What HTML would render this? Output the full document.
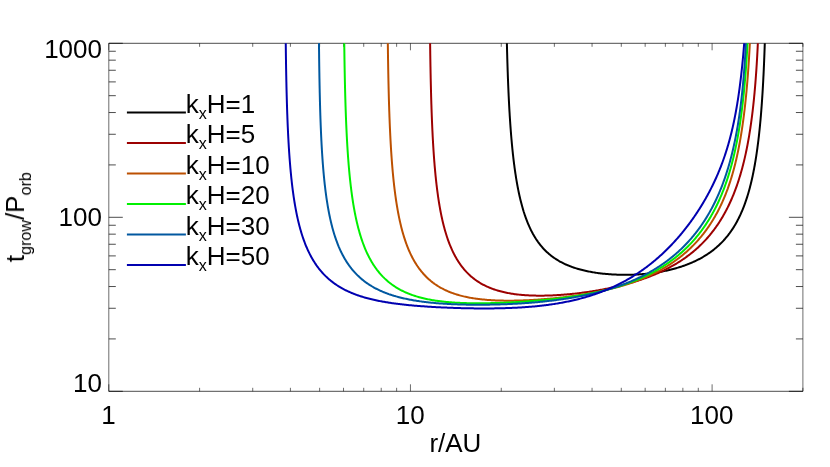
<!DOCTYPE html>
<html><head><meta charset="utf-8"><title>t_grow vs r</title>
<style>
html,body{margin:0;padding:0;background:#fff;}
svg{display:block;}
text{font-family:"Liberation Sans",sans-serif;fill:#000;}
</style></head>
<body>
<svg width="830" height="467" viewBox="0 0 830 467">
<rect x="0" y="0" width="830" height="467" fill="#ffffff"/>
<defs><clipPath id="c"><rect x="108.8" y="43.3" width="694.1" height="348"/></clipPath></defs>
<path d="M108.8 43.3H802.9M108.8 391.3H802.9M108.8 391.3h14M802.9 391.3h-14M108.8 338.92h7M802.9 338.92h-7M108.8 308.28h7M802.9 308.28h-7M108.8 286.54h7M802.9 286.54h-7M108.8 269.68h7M802.9 269.68h-7M108.8 255.9h7M802.9 255.9h-7M108.8 244.25h7M802.9 244.25h-7M108.8 234.16h7M802.9 234.16h-7M108.8 225.26h7M802.9 225.26h-7M108.8 217.3h14M802.9 217.3h-14M108.8 164.92h7M802.9 164.92h-7M108.8 134.28h7M802.9 134.28h-7M108.8 112.54h7M802.9 112.54h-7M108.8 95.68h7M802.9 95.68h-7M108.8 81.9h7M802.9 81.9h-7M108.8 70.25h7M802.9 70.25h-7M108.8 60.16h7M802.9 60.16h-7M108.8 51.26h7M802.9 51.26h-7M108.8 43.3h14M802.9 43.3h-14" fill="none" stroke="#000" stroke-width="0.7"/>
<path d="M108.8 43.3V391.3M802.9 43.3V391.3M108.8 391.3v-7M108.8 43.3v7M199.6 391.3v-3.5M199.6 43.3v3.5M252.72 391.3v-3.5M252.72 43.3v3.5M290.41 391.3v-3.5M290.41 43.3v3.5M319.64 391.3v-3.5M319.64 43.3v3.5M343.53 391.3v-3.5M343.53 43.3v3.5M363.72 391.3v-3.5M363.72 43.3v3.5M381.21 391.3v-3.5M381.21 43.3v3.5M396.64 391.3v-3.5M396.64 43.3v3.5M410.45 391.3v-7M410.45 43.3v7M501.25 391.3v-3.5M501.25 43.3v3.5M554.37 391.3v-3.5M554.37 43.3v3.5M592.06 391.3v-3.5M592.06 43.3v3.5M621.29 391.3v-3.5M621.29 43.3v3.5M645.17 391.3v-3.5M645.17 43.3v3.5M665.37 391.3v-3.5M665.37 43.3v3.5M682.86 391.3v-3.5M682.86 43.3v3.5M698.29 391.3v-3.5M698.29 43.3v3.5M712.1 391.3v-7M712.1 43.3v7M802.9 391.3v-3.5M802.9 43.3v3.5" fill="none" stroke="#000" stroke-width="0.58"/>
<g clip-path="url(#c)" fill="none" stroke-width="2.0" stroke-linejoin="round">
<path d="M506.42 20.57 506.44 21.71 506.46 22.85 506.48 23.98 506.5 25.1 506.53 26.21 506.55 27.32 506.57 28.42 506.59 29.51 506.61 30.59 506.63 31.66 506.65 32.73 506.68 33.79 506.7 34.84 506.72 35.89 506.74 36.92 506.77 37.95 506.79 38.98 506.81 39.99 506.84 41 506.86 42.01 506.89 43.5 506.93 44.98 506.96 46.44 507 47.89 507.04 49.33 507.07 50.75 507.11 52.16 507.15 53.56 507.19 54.94 507.22 56.31 507.26 57.67 507.3 59.01 507.34 60.35 507.38 61.67 507.42 62.98 507.46 64.27 507.5 65.56 507.54 66.84 507.58 68.1 507.62 69.35 507.66 70.6 507.7 71.83 507.75 73.05 507.79 74.26 507.83 75.46 507.87 76.65 507.92 77.84 507.96 79.01 508.01 80.17 508.05 81.32 508.09 82.47 508.14 83.6 508.18 84.73 508.23 85.84 508.28 86.95 508.32 88.05 508.37 89.14 508.42 90.22 508.46 91.29 508.51 92.36 508.56 93.42 508.61 94.47 508.65 95.51 508.7 96.54 508.75 97.57 508.8 98.58 508.85 99.6 508.9 100.6 508.97 101.92 509.04 103.24 509.1 104.54 509.17 105.83 509.24 107.1 509.31 108.37 509.38 109.62 509.45 110.86 509.53 112.09 509.6 113.3 509.67 114.51 509.74 115.7 509.82 116.89 509.89 118.06 509.97 119.22 510.04 120.37 510.12 121.52 510.2 122.65 510.27 123.77 510.35 124.88 510.43 125.98 510.51 127.07 510.59 128.16 510.67 129.23 510.75 130.3 510.83 131.35 510.91 132.4 510.99 133.43 511.07 134.46 511.16 135.48 511.24 136.49 511.33 137.5 511.43 138.74 511.54 139.97 511.65 141.18 511.76 142.39 511.87 143.58 511.98 144.76 512.09 145.93 512.2 147.08 512.31 148.23 512.43 149.36 512.54 150.48 512.66 151.59 512.77 152.69 512.89 153.78 513.01 154.86 513.13 155.93 513.25 156.99 513.37 158.04 513.49 159.07 513.61 160.1 513.73 161.12 513.86 162.13 513.98 163.13 514.13 164.31 514.29 165.49 514.44 166.64 514.59 167.79 514.75 168.93 514.91 170.05 515.06 171.16 515.22 172.25 515.38 173.34 515.55 174.41 515.71 175.47 515.87 176.52 516.04 177.56 516.2 178.59 516.37 179.6 516.54 180.61 516.71 181.6 516.91 182.75 517.11 183.88 517.31 185 517.52 186.11 517.73 187.2 517.93 188.28 518.14 189.34 518.35 190.39 518.57 191.43 518.78 192.46 519 193.47 519.21 194.47 519.43 195.46 519.65 196.44 519.91 197.55 520.16 198.64 520.42 199.71 520.68 200.77 520.94 201.81 521.21 202.84 521.47 203.86 521.74 204.86 522.01 205.85 522.28 206.83 522.56 207.8 522.87 208.86 523.18 209.92 523.5 210.95 523.81 211.98 524.14 212.98 524.46 213.97 524.78 214.95 525.11 215.91 525.44 216.86 525.81 217.9 526.19 218.92 526.56 219.92 526.94 220.91 527.32 221.88 527.71 222.84 528.1 223.77 528.49 224.7 528.92 225.7 529.36 226.68 529.8 227.64 530.25 228.59 530.69 229.52 531.15 230.43 531.6 231.33 532.1 232.29 532.61 233.23 533.11 234.16 533.63 235.06 534.14 235.95 534.66 236.82 535.19 237.68 535.76 238.59 536.34 239.47 536.92 240.34 537.51 241.19 538.1 242.03 538.7 242.84 539.34 243.7 539.99 244.54 540.65 245.36 541.31 246.16 541.98 246.95 542.65 247.72 543.33 248.46 544.01 249.2 544.75 249.96 545.49 250.71 546.24 251.44 546.99 252.15 547.75 252.84 548.52 253.52 549.29 254.18 550.06 254.82 550.84 255.45 551.68 256.11 552.53 256.74 553.38 257.36 554.23 257.96 555.09 258.55 555.96 259.12 556.84 259.68 557.71 260.22 558.6 260.75 559.49 261.26 560.38 261.76 561.28 262.24 562.19 262.71 563.1 263.17 564.02 263.62 564.94 264.06 565.86 264.48 566.79 264.89 567.73 265.29 568.67 265.68 569.62 266.05 570.57 266.42 571.52 266.78 572.48 267.12 573.45 267.46 574.41 267.79 575.39 268.1 576.36 268.41 577.34 268.71 578.33 269 579.32 269.28 580.31 269.55 581.31 269.82 582.31 270.07 583.31 270.32 584.32 270.56 585.34 270.79 586.35 271.02 587.37 271.23 588.39 271.44 589.42 271.64 590.45 271.84 591.48 272.03 592.52 272.21 593.56 272.38 594.6 272.55 595.64 272.71 596.69 272.87 597.74 273.01 598.79 273.16 599.85 273.29 600.91 273.42 601.9 273.54 602.9 273.65 603.9 273.75 604.9 273.85 605.9 273.95 606.9 274.04 607.91 274.12 608.92 274.2 609.93 274.28 610.94 274.35 611.95 274.41 612.97 274.47 613.98 274.52 615 274.57 616.02 274.62 617.04 274.66 618.06 274.69 619.08 274.72 620.1 274.75 621.13 274.77 622.15 274.79 623.18 274.8 624.2 274.8 625.23 274.8 626.26 274.8 627.29 274.79 628.32 274.78 629.35 274.76 630.38 274.74 631.41 274.71 632.44 274.68 633.47 274.64 634.5 274.6 635.53 274.55 636.56 274.5 637.59 274.44 638.62 274.38 639.66 274.31 640.69 274.24 641.72 274.16 642.75 274.07 643.78 273.99 644.81 273.89 645.84 273.79 646.86 273.69 647.89 273.58 648.92 273.47 649.94 273.35 650.97 273.22 651.99 273.09 653.02 272.95 654.04 272.81 655.06 272.66 656.08 272.51 657.1 272.35 658.12 272.19 659.13 272.02 660.15 271.84 661.16 271.66 662.17 271.47 663.18 271.27 664.19 271.07 665.2 270.87 666.2 270.66 667.21 270.44 668.21 270.21 669.21 269.98 670.21 269.74 671.2 269.5 672.19 269.25 673.18 268.99 674.17 268.73 675.16 268.46 676.14 268.18 677.12 267.89 678.1 267.6 679.08 267.3 680.05 267 681.02 266.68 681.99 266.36 682.96 266.04 683.92 265.7 684.88 265.36 685.84 265.01 686.79 264.65 687.74 264.28 688.69 263.91 689.63 263.53 690.57 263.14 691.51 262.74 692.44 262.33 693.37 261.92 694.3 261.49 695.22 261.06 696.14 260.62 697.06 260.17 697.97 259.71 698.88 259.24 699.78 258.76 700.68 258.27 701.58 257.77 702.47 257.27 703.36 256.75 704.25 256.22 705.13 255.68 706 255.13 706.87 254.57 707.74 254 708.6 253.42 709.46 252.83 710.32 252.22 711.17 251.61 712.01 250.98 712.85 250.34 713.68 249.69 714.52 249.02 715.34 248.34 716.11 247.7 716.87 247.04 717.63 246.37 718.38 245.69 719.13 245 719.87 244.29 720.61 243.57 721.35 242.84 722.08 242.09 722.81 241.33 723.53 240.56 724.24 239.77 724.96 238.97 725.61 238.21 726.26 237.44 726.91 236.65 727.56 235.86 728.2 235.04 728.83 234.22 729.47 233.38 730.09 232.52 730.72 231.65 731.33 230.77 731.9 229.93 732.46 229.09 733.02 228.23 733.58 227.36 734.13 226.47 734.68 225.57 735.22 224.65 735.76 223.72 736.3 222.77 736.79 221.89 737.27 220.99 737.75 220.08 738.23 219.16 738.71 218.22 739.18 217.27 739.65 216.3 740.11 215.32 740.57 214.32 740.99 213.4 741.4 212.46 741.81 211.51 742.22 210.55 742.62 209.58 743.02 208.59 743.42 207.59 743.82 206.57 744.21 205.53 744.56 204.59 744.91 203.64 745.26 202.67 745.6 201.69 745.94 200.69 746.28 199.69 746.62 198.66 746.95 197.63 747.28 196.58 747.61 195.52 747.94 194.44 748.23 193.47 748.51 192.49 748.8 191.5 749.08 190.49 749.36 189.47 749.64 188.44 749.91 187.4 750.19 186.34 750.46 185.27 750.73 184.19 751 183.09 751.27 181.98 751.5 181 751.73 180.01 751.96 179 752.18 177.99 752.41 176.96 752.63 175.92 752.85 174.87 753.07 173.81 753.29 172.74 753.51 171.65 753.72 170.55 753.94 169.44 754.15 168.32 754.36 167.18 754.54 166.2 754.72 165.2 754.9 164.2 755.07 163.18 755.25 162.16 755.42 161.12 755.59 160.08 755.77 159.02 755.94 157.95 756.11 156.88 756.27 155.79 756.44 154.69 756.61 153.58 756.77 152.45 756.93 151.32 757.09 150.17 757.26 149.02 757.41 147.84 757.57 146.66 757.7 145.67 757.83 144.66 757.96 143.65 758.09 142.63 758.22 141.59 758.35 140.55 758.47 139.5 758.6 138.44 758.72 137.37 758.85 136.3 758.97 135.21 759.09 134.11 759.21 133 759.33 131.88 759.45 130.75 759.57 129.61 759.69 128.45 759.8 127.29 759.92 126.12 760.03 124.93 760.15 123.74 760.26 122.53 760.37 121.31 760.49 120.08 760.6 118.83 760.68 117.83 760.77 116.82 760.86 115.8 760.94 114.77 761.03 113.73 761.12 112.69 761.2 111.64 761.28 110.57 761.37 109.5 761.45 108.42 761.53 107.34 761.62 106.24 761.7 105.13 761.78 104.02 761.86 102.89 761.94 101.76 762.02 100.61 762.1 99.46 762.17 98.3 762.25 97.12 762.33 95.94 762.41 94.74 762.48 93.54 762.56 92.32 762.63 91.1 762.71 89.86 762.78 88.61 762.85 87.35 762.93 86.08 763 84.8 763.07 83.51 763.14 82.2 763.21 80.88 763.28 79.55 763.33 78.55 763.38 77.53 763.43 76.51 763.49 75.49 763.54 74.45 763.59 73.41 763.64 72.36 763.69 71.3 763.74 70.23 763.79 69.16 763.83 68.08 763.88 66.99 763.93 65.89 763.98 64.79 764.03 63.67 764.07 62.55 764.12 61.42 764.17 60.28 764.21 59.13 764.26 57.98 764.31 56.81 764.35 55.63 764.4 54.45 764.44 53.26 764.49 52.05 764.53 50.84 764.57 49.61 764.62 48.38 764.66 47.14 764.7 45.89 764.75 44.62 764.79 43.35 764.83 42.06 764.87 40.77 764.91 39.46 764.95 38.14 764.99 36.81 765.03 35.47 765.07 34.12 765.11 32.75 765.15 31.38 765.19 29.99 765.23 28.59 765.27 27.17 765.31 25.75 765.34 24.31 765.38 22.85 765.42 21.39 765.44 20.4" stroke="#000000"/>
<path d="M429.87 20.63 429.89 22.28 429.9 23.9 429.92 25.51 429.93 27.1 429.95 28.67 429.96 30.22 429.98 31.76 430 33.27 430.01 34.77 430.03 36.26 430.05 37.72 430.06 39.17 430.08 40.61 430.1 42.03 430.12 43.43 430.13 44.82 430.15 46.2 430.17 47.56 430.19 48.91 430.21 50.24 430.23 51.56 430.24 52.87 430.26 54.17 430.28 55.45 430.3 56.72 430.32 57.98 430.34 59.22 430.36 60.46 430.38 61.68 430.4 62.89 430.42 64.09 430.44 65.28 430.46 66.46 430.49 67.63 430.51 68.79 430.53 69.94 430.55 71.08 430.57 72.2 430.59 73.32 430.62 74.43 430.64 75.53 430.66 76.62 430.68 77.7 430.71 78.78 430.73 79.84 430.75 80.89 430.78 81.94 430.8 82.98 430.82 84.01 430.85 85.03 430.87 86.04 430.9 87.05 430.93 88.54 430.97 90.02 431.01 91.48 431.05 92.92 431.08 94.35 431.12 95.76 431.16 97.16 431.2 98.54 431.24 99.91 431.28 101.26 431.32 102.6 431.36 103.92 431.41 105.23 431.45 106.53 431.49 107.81 431.53 109.08 431.58 110.34 431.62 111.58 431.66 112.81 431.71 114.03 431.75 115.24 431.8 116.44 431.85 117.62 431.89 118.8 431.94 119.96 431.98 121.11 432.03 122.26 432.08 123.39 432.13 124.51 432.18 125.62 432.23 126.72 432.27 127.81 432.32 128.89 432.37 129.96 432.43 131.02 432.48 132.08 432.53 133.12 432.58 134.15 432.63 135.18 432.68 136.2 432.74 137.21 432.79 138.21 432.86 139.53 432.94 140.83 433.01 142.12 433.08 143.4 433.16 144.67 433.23 145.92 433.31 147.15 433.39 148.38 433.46 149.59 433.54 150.79 433.62 151.97 433.7 153.15 433.78 154.31 433.86 155.46 433.94 156.6 434.02 157.73 434.11 158.84 434.19 159.95 434.28 161.05 434.36 162.13 434.45 163.2 434.53 164.27 434.62 165.32 434.71 166.37 434.8 167.4 434.89 168.42 434.98 169.44 435.07 170.44 435.16 171.44 435.28 172.67 435.39 173.89 435.51 175.09 435.63 176.29 435.75 177.46 435.87 178.63 435.99 179.78 436.12 180.92 436.24 182.05 436.37 183.16 436.49 184.26 436.62 185.36 436.75 186.44 436.88 187.5 437.01 188.56 437.14 189.61 437.27 190.64 437.41 191.67 437.54 192.68 437.68 193.68 437.82 194.68 437.98 195.86 438.15 197.02 438.32 198.17 438.49 199.31 438.66 200.43 438.84 201.54 439.01 202.64 439.19 203.72 439.37 204.79 439.55 205.85 439.73 206.9 439.91 207.94 440.1 208.96 440.28 209.97 440.47 210.97 440.66 211.96 440.88 213.1 441.11 214.22 441.34 215.33 441.56 216.43 441.8 217.51 442.03 218.58 442.26 219.63 442.5 220.67 442.74 221.7 442.98 222.71 443.23 223.71 443.47 224.7 443.72 225.68 444 226.78 444.29 227.86 444.58 228.93 444.88 229.99 445.17 231.03 445.47 232.05 445.77 233.06 446.08 234.06 446.38 235.04 446.69 236.01 447 236.97 447.36 238.03 447.71 239.07 448.07 240.1 448.44 241.11 448.8 242.1 449.17 243.08 449.55 244.05 449.92 245 450.3 245.93 450.73 246.95 451.16 247.96 451.59 248.95 452.03 249.92 452.47 250.87 452.92 251.81 453.37 252.73 453.82 253.64 454.28 254.53 454.79 255.49 455.3 256.44 455.81 257.37 456.34 258.28 456.86 259.17 457.39 260.04 457.93 260.9 458.47 261.75 459.06 262.65 459.66 263.53 460.26 264.4 460.87 265.25 461.49 266.08 462.11 266.89 462.74 267.69 463.37 268.47 464.06 269.3 464.75 270.1 465.45 270.89 466.16 271.66 466.87 272.42 467.59 273.15 468.32 273.87 469.05 274.58 469.79 275.26 470.53 275.93 471.34 276.64 472.15 277.32 472.97 277.99 473.8 278.64 474.63 279.28 475.47 279.89 476.32 280.5 477.17 281.08 478.03 281.65 478.89 282.2 479.76 282.74 480.64 283.27 481.53 283.78 482.42 284.27 483.31 284.76 484.21 285.22 485.12 285.68 486.04 286.12 486.96 286.55 487.88 286.96 488.81 287.37 489.75 287.76 490.69 288.14 491.64 288.5 492.59 288.86 493.55 289.2 494.52 289.54 495.49 289.86 496.46 290.17 497.44 290.47 498.43 290.76 499.42 291.04 500.42 291.31 501.42 291.57 502.43 291.82 503.44 292.06 504.46 292.3 505.48 292.52 506.5 292.73 507.54 292.94 508.57 293.13 509.61 293.32 510.66 293.5 511.71 293.67 512.76 293.84 513.82 293.99 514.88 294.14 515.95 294.28 516.94 294.4 517.94 294.52 518.95 294.63 519.95 294.73 520.96 294.83 521.97 294.92 522.99 295.01 524.01 295.09 525.03 295.17 526.06 295.24 527.09 295.3 528.12 295.36 529.15 295.41 530.19 295.46 531.23 295.5 532.28 295.54 533.33 295.57 534.38 295.6 535.43 295.62 536.48 295.64 537.54 295.65 538.6 295.66 539.67 295.67 540.73 295.66 541.8 295.66 542.88 295.65 543.95 295.63 545.03 295.62 546.1 295.59 547.19 295.57 548.18 295.54 549.19 295.5 550.19 295.47 551.2 295.43 552.2 295.39 553.21 295.34 554.22 295.29 555.23 295.24 556.25 295.18 557.26 295.12 558.28 295.06 559.3 294.99 560.32 294.92 561.34 294.85 562.36 294.77 563.38 294.69 564.41 294.61 565.43 294.53 566.46 294.44 567.49 294.35 568.52 294.25 569.55 294.15 570.58 294.05 571.61 293.95 572.65 293.84 573.68 293.73 574.71 293.62 575.75 293.51 576.79 293.39 577.82 293.26 578.86 293.14 579.9 293.01 580.94 292.88 581.98 292.75 583.02 292.61 584.06 292.47 585.1 292.33 586.15 292.18 587.19 292.03 588.23 291.88 589.27 291.73 590.32 291.57 591.36 291.41 592.4 291.24 593.45 291.08 594.49 290.91 595.53 290.73 596.58 290.56 597.62 290.38 598.66 290.2 599.71 290.01 600.75 289.82 601.79 289.63 602.84 289.43 603.88 289.24 604.92 289.03 605.96 288.83 607 288.62 608.04 288.41 609.08 288.19 610.12 287.98 611.16 287.75 612.2 287.53 613.24 287.3 614.28 287.07 615.31 286.83 616.35 286.59 617.38 286.35 618.42 286.11 619.45 285.86 620.48 285.6 621.51 285.34 622.54 285.08 623.57 284.82 624.6 284.55 625.63 284.28 626.65 284 627.68 283.72 628.7 283.44 629.72 283.15 630.74 282.86 631.76 282.56 632.78 282.26 633.79 281.95 634.81 281.65 635.82 281.33 636.83 281.01 637.84 280.69 638.85 280.37 639.86 280.03 640.86 279.7 641.86 279.36 642.86 279.01 643.86 278.66 644.86 278.31 645.85 277.95 646.85 277.59 647.84 277.22 648.83 276.84 649.81 276.47 650.8 276.08 651.78 275.69 652.76 275.3 653.74 274.9 654.72 274.49 655.69 274.08 656.66 273.67 657.63 273.25 658.6 272.82 659.56 272.39 660.52 271.95 661.48 271.51 662.43 271.06 663.39 270.6 664.34 270.14 665.29 269.67 666.23 269.2 667.17 268.72 668.11 268.23 669.05 267.74 669.98 267.24 670.91 266.73 671.84 266.22 672.77 265.7 673.69 265.18 674.61 264.64 675.52 264.11 676.43 263.56 677.34 263.01 678.25 262.45 679.15 261.88 680.05 261.3 680.95 260.72 681.84 260.13 682.73 259.53 683.61 258.93 684.49 258.32 685.37 257.7 686.25 257.07 687.12 256.43 687.99 255.79 688.85 255.13 689.71 254.47 690.57 253.8 691.42 253.13 692.2 252.5 692.98 251.86 693.75 251.22 694.52 250.57 695.28 249.91 696.04 249.24 696.8 248.57 697.56 247.89 698.31 247.2 699.06 246.5 699.81 245.79 700.55 245.08 701.29 244.36 702.02 243.63 702.75 242.89 703.48 242.14 704.2 241.39 704.92 240.62 705.64 239.85 706.35 239.07 707.06 238.27 707.77 237.47 708.47 236.66 709.17 235.85 709.86 235.02 710.55 234.18 711.24 233.33 711.92 232.47 712.54 231.68 713.16 230.89 713.77 230.08 714.38 229.27 714.98 228.45 715.58 227.62 716.18 226.78 716.77 225.93 717.37 225.07 717.95 224.2 718.54 223.33 719.12 222.44 719.7 221.55 720.27 220.64 720.84 219.73 721.41 218.81 721.97 217.87 722.54 216.93 723.09 215.98 723.59 215.11 724.09 214.23 724.58 213.35 725.07 212.46 725.56 211.56 726.04 210.65 726.52 209.73 727 208.8 727.48 207.86 727.95 206.91 728.42 205.96 728.88 204.99 729.35 204.02 729.81 203.03 730.27 202.04 730.72 201.03 731.17 200.02 731.62 198.99 732.02 198.07 732.41 197.15 732.8 196.21 733.19 195.26 733.58 194.31 733.96 193.35 734.34 192.38 734.72 191.39 735.1 190.41 735.47 189.41 735.85 188.4 736.22 187.38 736.58 186.35 736.95 185.32 737.31 184.27 737.67 183.21 738.03 182.15 738.38 181.07 738.73 179.98 739.04 179.02 739.34 178.06 739.64 177.08 739.94 176.1 740.24 175.1 740.54 174.1 740.83 173.09 741.13 172.07 741.42 171.04 741.7 170.01 741.99 168.96 742.28 167.91 742.56 166.84 742.84 165.77 743.12 164.68 743.39 163.59 743.67 162.48 743.94 161.37 744.21 160.25 744.48 159.11 744.71 158.13 744.94 157.14 745.16 156.15 745.39 155.14 745.61 154.13 745.83 153.11 746.05 152.08 746.27 151.04 746.48 149.99 746.7 148.94 746.91 147.87 747.13 146.8 747.34 145.72 747.55 144.63 747.75 143.52 747.96 142.41 748.16 141.29 748.37 140.16 748.57 139.03 748.77 137.88 748.97 136.72 749.17 135.55 749.36 134.36 749.52 133.37 749.68 132.37 749.84 131.37 750 130.35 750.16 129.33 750.32 128.3 750.47 127.26 750.63 126.21 750.78 125.16 750.93 124.09 751.08 123.02 751.23 121.94 751.38 120.85 751.53 119.75 751.68 118.64 751.82 117.53 751.97 116.4 752.11 115.27 752.26 114.12 752.4 112.97 752.54 111.8 752.68 110.63 752.82 109.44 752.95 108.25 753.09 107.05 753.22 105.83 753.36 104.6 753.49 103.37 753.6 102.37 753.7 101.36 753.81 100.35 753.91 99.33 754.01 98.3 754.11 97.27 754.22 96.22 754.32 95.17 754.42 94.12 754.52 93.05 754.61 91.97 754.71 90.89 754.81 89.8 754.91 88.7 755 87.59 755.1 86.47 755.19 85.35 755.29 84.21 755.38 83.07 755.47 81.91 755.56 80.75 755.65 79.58 755.74 78.39 755.83 77.2 755.92 76 756.01 74.78 756.1 73.56 756.18 72.33 756.27 71.08 756.36 69.83 756.44 68.56 756.52 67.28 756.61 65.99 756.69 64.69 756.77 63.38 756.85 62.05 756.91 61.05 756.97 60.04 757.03 59.03 757.09 58 757.15 56.97 757.21 55.93 757.27 54.89 757.32 53.83 757.38 52.77 757.44 51.71 757.49 50.63 757.55 49.54 757.61 48.45 757.66 47.35 757.71 46.24 757.77 45.12 757.82 44 757.88 42.86 757.93 41.72 757.98 40.56 758.03 39.4 758.09 38.23 758.14 37.05 758.19 35.86 758.24 34.66 758.29 33.45 758.34 32.22 758.39 30.99 758.44 29.75 758.49 28.5 758.54 27.24 758.58 25.96 758.63 24.68 758.68 23.38 758.72 22.07 758.77 20.75 758.79 20.31" stroke="#9c0000"/>
<path d="M387.6 20.84 387.61 22.6 387.63 24.33 387.64 26.04 387.66 27.74 387.68 29.41 387.69 31.05 387.71 32.68 387.73 34.29 387.74 35.88 387.76 37.45 387.78 39.01 387.8 40.54 387.81 42.06 387.83 43.56 387.85 45.04 387.87 46.51 387.89 47.96 387.91 49.39 387.93 50.81 387.94 52.22 387.96 53.61 387.98 54.98 388 56.34 388.02 57.69 388.04 59.02 388.06 60.34 388.09 61.64 388.11 62.94 388.13 64.22 388.15 65.49 388.17 66.74 388.19 67.99 388.21 69.22 388.24 70.44 388.26 71.65 388.28 72.85 388.3 74.03 388.33 75.21 388.35 76.38 388.37 77.53 388.4 78.68 388.42 79.81 388.44 80.94 388.47 82.05 388.49 83.16 388.52 84.26 388.54 85.34 388.57 86.42 388.59 87.49 388.62 88.55 388.64 89.6 388.67 90.65 388.69 91.68 388.72 92.71 388.75 93.73 388.77 94.74 388.8 95.74 388.84 97.23 388.88 98.7 388.92 100.15 388.96 101.59 389.01 103.01 389.05 104.42 389.09 105.81 389.14 107.18 389.18 108.54 389.22 109.89 389.27 111.22 389.32 112.54 389.36 113.84 389.41 115.13 389.45 116.41 389.5 117.67 389.55 118.92 389.6 120.16 389.65 121.39 389.69 122.6 389.74 123.8 389.79 124.99 389.84 126.17 389.89 127.34 389.95 128.5 390 129.64 390.05 130.78 390.1 131.9 390.16 133.02 390.21 134.12 390.26 135.22 390.32 136.3 390.37 137.38 390.43 138.44 390.48 139.5 390.54 140.54 390.6 141.58 390.65 142.61 390.71 143.63 390.77 144.64 390.83 145.64 390.9 146.96 390.98 148.27 391.06 149.56 391.14 150.84 391.23 152.11 391.31 153.36 391.39 154.6 391.48 155.82 391.56 157.04 391.65 158.24 391.73 159.42 391.82 160.6 391.91 161.76 392 162.91 392.09 164.05 392.18 165.18 392.27 166.29 392.36 167.4 392.45 168.49 392.54 169.58 392.64 170.65 392.73 171.71 392.83 172.77 392.93 173.81 393.02 174.84 393.12 175.87 393.22 176.88 393.32 177.88 393.44 179.12 393.57 180.35 393.7 181.57 393.83 182.76 393.96 183.95 394.09 185.12 394.22 186.28 394.36 187.43 394.49 188.56 394.63 189.69 394.77 190.79 394.91 191.89 395.05 192.98 395.19 194.05 395.33 195.11 395.47 196.17 395.62 197.21 395.77 198.24 395.91 199.25 396.06 200.26 396.21 201.26 396.39 202.44 396.58 203.61 396.76 204.77 396.95 205.91 397.14 207.03 397.33 208.15 397.52 209.25 397.71 210.33 397.9 211.41 398.1 212.47 398.3 213.52 398.5 214.56 398.7 215.58 398.91 216.59 399.11 217.6 399.32 218.59 399.53 219.56 399.77 220.69 400.02 221.8 400.27 222.9 400.52 223.99 400.78 225.05 401.03 226.11 401.29 227.15 401.55 228.18 401.82 229.2 402.08 230.2 402.35 231.19 402.62 232.16 402.9 233.13 403.21 234.21 403.53 235.29 403.85 236.34 404.17 237.38 404.5 238.41 404.83 239.42 405.16 240.42 405.49 241.4 405.83 242.37 406.17 243.32 406.52 244.26 406.91 245.31 407.3 246.33 407.7 247.34 408.1 248.34 408.5 249.32 408.91 250.28 409.32 251.23 409.74 252.16 410.16 253.08 410.63 254.08 411.1 255.07 411.58 256.04 412.06 256.99 412.55 257.93 413.04 258.85 413.54 259.75 414.04 260.64 414.54 261.51 415.1 262.45 415.67 263.38 416.24 264.28 416.81 265.17 417.39 266.05 417.98 266.9 418.57 267.74 419.17 268.56 419.77 269.37 420.43 270.23 421.1 271.08 421.77 271.9 422.45 272.71 423.13 273.5 423.82 274.28 424.52 275.03 425.22 275.77 425.93 276.5 426.64 277.21 427.42 277.96 428.21 278.69 429 279.41 429.8 280.11 430.6 280.79 431.42 281.45 432.23 282.1 433.06 282.74 433.89 283.35 434.73 283.96 435.57 284.54 436.42 285.11 437.28 285.67 438.14 286.22 439.01 286.75 439.89 287.26 440.77 287.76 441.65 288.25 442.55 288.73 443.45 289.19 444.35 289.65 445.26 290.08 446.18 290.51 447.1 290.93 448.03 291.33 448.96 291.72 449.9 292.1 450.85 292.47 451.8 292.83 452.75 293.18 453.72 293.52 454.68 293.85 455.66 294.17 456.63 294.47 457.62 294.77 458.6 295.06 459.6 295.34 460.6 295.61 461.6 295.87 462.61 296.13 463.62 296.37 464.64 296.61 465.66 296.84 466.69 297.06 467.73 297.27 468.76 297.47 469.81 297.67 470.86 297.86 471.91 298.04 472.96 298.21 474.03 298.38 475.09 298.54 476.16 298.69 477.15 298.83 478.15 298.96 479.15 299.08 480.15 299.2 481.16 299.31 482.17 299.42 483.18 299.52 484.2 299.62 485.22 299.72 486.24 299.8 487.27 299.89 488.3 299.97 489.33 300.04 490.37 300.11 491.41 300.17 492.45 300.24 493.5 300.29 494.55 300.34 495.6 300.39 496.65 300.43 497.71 300.47 498.77 300.51 499.84 300.54 500.9 300.57 501.97 300.59 503.04 300.61 504.12 300.63 505.19 300.64 506.27 300.65 507.36 300.66 508.44 300.66 509.53 300.66 510.62 300.66 511.62 300.65 512.62 300.64 513.63 300.63 514.64 300.61 515.64 300.59 516.65 300.57 517.67 300.55 518.68 300.53 519.7 300.5 520.71 300.47 521.73 300.43 522.75 300.4 523.78 300.36 524.8 300.32 525.83 300.28 526.85 300.23 527.88 300.19 528.91 300.14 529.94 300.08 530.98 300.03 532.01 299.97 533.04 299.91 534.08 299.85 535.12 299.79 536.16 299.72 537.2 299.66 538.24 299.59 539.28 299.51 540.32 299.44 541.37 299.36 542.41 299.28 543.46 299.2 544.51 299.12 545.56 299.03 546.6 298.95 547.65 298.86 548.7 298.76 549.75 298.67 550.81 298.57 551.86 298.48 552.91 298.37 553.97 298.27 555.02 298.17 556.07 298.06 557.13 297.95 558.19 297.84 559.24 297.72 560.3 297.61 561.36 297.49 562.41 297.37 563.47 297.24 564.53 297.12 565.59 296.99 566.64 296.86 567.7 296.72 568.76 296.59 569.82 296.45 570.88 296.31 571.93 296.17 572.99 296.02 574.05 295.88 575.11 295.73 576.17 295.57 577.23 295.42 578.28 295.26 579.34 295.1 580.4 294.93 581.45 294.77 582.51 294.6 583.57 294.43 584.62 294.25 585.68 294.08 586.73 293.9 587.79 293.71 588.84 293.53 589.89 293.34 590.94 293.15 592 292.95 593.05 292.76 594.1 292.56 595.15 292.35 596.19 292.14 597.24 291.93 598.29 291.72 599.34 291.5 600.38 291.28 601.42 291.06 602.47 290.83 603.51 290.6 604.55 290.37 605.59 290.13 606.63 289.89 607.67 289.65 608.7 289.4 609.74 289.15 610.77 288.89 611.8 288.63 612.83 288.37 613.86 288.1 614.89 287.83 615.92 287.56 616.94 287.28 617.97 286.99 618.99 286.71 620.01 286.42 621.03 286.12 622.04 285.82 623.06 285.52 624.07 285.21 625.08 284.9 626.1 284.58 627.1 284.26 628.11 283.93 629.11 283.6 630.12 283.27 631.12 282.93 632.12 282.58 633.11 282.23 634.11 281.88 635.1 281.52 636.09 281.15 637.08 280.78 638.06 280.41 639.05 280.03 640.03 279.64 641.01 279.25 641.98 278.86 642.96 278.46 643.93 278.05 644.9 277.64 645.87 277.23 646.83 276.8 647.79 276.38 648.75 275.94 649.71 275.5 650.66 275.06 651.62 274.61 652.56 274.15 653.51 273.69 654.45 273.22 655.39 272.75 656.33 272.27 657.27 271.78 658.2 271.29 659.13 270.79 660.06 270.28 660.98 269.77 661.9 269.25 662.82 268.73 663.73 268.2 664.64 267.66 665.55 267.11 666.46 266.56 667.36 266.01 668.26 265.44 669.15 264.87 670.04 264.29 670.93 263.71 671.82 263.11 672.7 262.51 673.58 261.91 674.45 261.29 675.32 260.67 676.19 260.04 677.06 259.41 677.92 258.76 678.78 258.11 679.63 257.45 680.48 256.79 681.33 256.11 682.17 255.43 683.01 254.74 683.85 254.04 684.68 253.33 685.51 252.62 686.33 251.89 687.15 251.16 687.9 250.49 688.64 249.81 689.37 249.12 690.1 248.43 690.83 247.73 691.56 247.02 692.28 246.31 693 245.58 693.72 244.85 694.43 244.11 695.14 243.37 695.85 242.61 696.55 241.85 697.25 241.08 697.95 240.3 698.64 239.52 699.33 238.72 700.01 237.92 700.7 237.11 701.37 236.29 702.05 235.46 702.72 234.62 703.39 233.78 704.05 232.92 704.71 232.06 705.37 231.18 706.02 230.3 706.67 229.41 707.32 228.51 707.89 227.69 708.47 226.86 709.04 226.02 709.61 225.18 710.17 224.32 710.74 223.46 711.29 222.59 711.85 221.72 712.4 220.83 712.95 219.93 713.5 219.03 714.04 218.11 714.58 217.19 715.12 216.26 715.65 215.31 716.19 214.36 716.71 213.4 717.24 212.42 717.76 211.44 718.28 210.45 718.73 209.56 719.19 208.66 719.64 207.75 720.09 206.83 720.54 205.91 720.98 204.97 721.42 204.03 721.86 203.07 722.3 202.11 722.73 201.14 723.16 200.16 723.59 199.16 724.02 198.16 724.44 197.15 724.86 196.13 725.28 195.1 725.69 194.05 726.1 193 726.51 191.93 726.87 190.99 727.22 190.04 727.58 189.09 727.92 188.12 728.27 187.14 728.62 186.16 728.96 185.16 729.3 184.16 729.64 183.14 729.98 182.12 730.31 181.09 730.65 180.04 730.98 178.99 731.3 177.93 731.63 176.85 731.96 175.77 732.28 174.67 732.6 173.57 732.91 172.45 733.18 171.48 733.45 170.51 733.72 169.52 733.99 168.53 734.25 167.53 734.51 166.52 734.77 165.5 735.03 164.47 735.29 163.43 735.55 162.38 735.8 161.33 736.05 160.26 736.3 159.19 736.55 158.1 736.8 157 737.05 155.9 737.29 154.78 737.53 153.65 737.78 152.51 738.02 151.36 738.25 150.2 738.49 149.03 738.68 148.05 738.88 147.05 739.07 146.05 739.26 145.04 739.46 144.03 739.65 143 739.83 141.97 740.02 140.92 740.21 139.87 740.39 138.81 740.58 137.74 740.76 136.66 740.94 135.57 741.12 134.48 741.3 133.37 741.48 132.25 741.66 131.13 741.83 129.99 742.01 128.84 742.18 127.69 742.35 126.52 742.52 125.34 742.69 124.16 742.86 122.96 743.03 121.75 743.2 120.53 743.36 119.3 743.49 118.3 743.62 117.3 743.75 116.29 743.88 115.28 744.01 114.26 744.14 113.22 744.27 112.19 744.39 111.14 744.52 110.08 744.64 109.02 744.77 107.95 744.89 106.87 745.01 105.78 745.13 104.69 745.25 103.58 745.37 102.47 745.49 101.35 745.61 100.21 745.73 99.07 745.84 97.92 745.96 96.76 746.08 95.6 746.19 94.42 746.3 93.23 746.42 92.03 746.53 90.83 746.64 89.61 746.75 88.38 746.86 87.14 746.97 85.89 747.08 84.63 747.19 83.36 747.29 82.08 747.4 80.79 747.5 79.48 747.61 78.17 747.71 76.84 747.79 75.84 747.87 74.83 747.94 73.81 748.02 72.79 748.09 71.76 748.17 70.72 748.24 69.68 748.32 68.63 748.39 67.57 748.47 66.5 748.54 65.43 748.61 64.35 748.68 63.26 748.75 62.16 748.83 61.06 748.9 59.95 748.97 58.83 749.04 57.7 749.11 56.56 749.17 55.42 749.24 54.26 749.31 53.1 749.38 51.93 749.45 50.75 749.51 49.56 749.58 48.37 749.64 47.16 749.71 45.94 749.78 44.72 749.84 43.49 749.9 42.24 749.97 40.99 750.03 39.72 750.09 38.45 750.16 37.17 750.22 35.87 750.28 34.57 750.34 33.26 750.4 31.93 750.46 30.59 750.52 29.25 750.58 27.89 750.64 26.52 750.7 25.14 750.75 23.74 750.81 22.34 750.87 20.92 750.89 20.45" stroke="#bc5000"/>
<path d="M344.01 20.12 344.03 21.96 344.04 23.78 344.06 25.57 344.08 27.34 344.09 29.08 344.11 30.81 344.13 32.5 344.15 34.18 344.17 35.84 344.18 37.47 344.2 39.09 344.22 40.69 344.24 42.26 344.26 43.82 344.28 45.36 344.3 46.88 344.32 48.39 344.34 49.87 344.36 51.35 344.38 52.8 344.4 54.24 344.42 55.66 344.44 57.07 344.46 58.46 344.48 59.83 344.51 61.2 344.53 62.55 344.55 63.88 344.57 65.2 344.59 66.51 344.62 67.8 344.64 69.08 344.66 70.35 344.69 71.61 344.71 72.85 344.74 74.09 344.76 75.31 344.78 76.52 344.81 77.71 344.83 78.9 344.86 80.08 344.88 81.24 344.91 82.4 344.94 83.54 344.96 84.68 344.99 85.8 345.01 86.91 345.04 88.02 345.07 89.11 345.1 90.2 345.12 91.28 345.15 92.35 345.18 93.4 345.21 94.45 345.23 95.5 345.26 96.53 345.29 97.55 345.32 98.57 345.35 99.58 345.38 100.58 345.42 102.06 345.47 103.53 345.51 104.98 345.56 106.42 345.61 107.83 345.65 109.24 345.7 110.62 345.75 111.99 345.8 113.35 345.85 114.69 345.89 116.02 345.94 117.33 346 118.63 346.05 119.92 346.1 121.19 346.15 122.45 346.2 123.7 346.25 124.93 346.31 126.15 346.36 127.36 346.42 128.56 346.47 129.74 346.53 130.92 346.58 132.08 346.64 133.23 346.7 134.37 346.75 135.5 346.81 136.62 346.87 137.73 346.93 138.83 346.99 139.92 347.05 141 347.11 142.07 347.17 143.13 347.23 144.18 347.29 145.22 347.35 146.25 347.42 147.28 347.48 148.29 347.54 149.3 347.63 150.63 347.72 151.94 347.8 153.24 347.89 154.52 347.98 155.79 348.07 157.04 348.16 158.29 348.26 159.51 348.35 160.73 348.44 161.93 348.54 163.12 348.63 164.3 348.73 165.47 348.83 166.62 348.92 167.76 349.02 168.89 349.12 170.01 349.22 171.12 349.32 172.21 349.43 173.3 349.53 174.37 349.63 175.44 349.74 176.49 349.85 177.54 349.95 178.57 350.06 179.59 350.17 180.61 350.28 181.61 350.39 182.61 350.53 183.84 350.67 185.06 350.81 186.26 350.95 187.45 351.1 188.63 351.24 189.79 351.39 190.94 351.54 192.08 351.69 193.2 351.84 194.31 351.99 195.41 352.14 196.5 352.3 197.58 352.46 198.64 352.61 199.7 352.77 200.74 352.93 201.77 353.1 202.79 353.26 203.8 353.42 204.8 353.59 205.79 353.79 206.96 353.99 208.12 354.2 209.26 354.4 210.4 354.61 211.51 354.82 212.62 355.03 213.71 355.25 214.78 355.46 215.85 355.68 216.9 355.9 217.94 356.12 218.97 356.35 219.99 356.57 220.99 356.8 221.98 357.03 222.96 357.3 224.09 357.57 225.21 357.85 226.31 358.12 227.39 358.4 228.47 358.69 229.52 358.97 230.57 359.26 231.6 359.55 232.62 359.84 233.62 360.14 234.61 360.44 235.59 360.74 236.55 361.04 237.51 361.39 238.58 361.74 239.64 362.1 240.68 362.45 241.71 362.82 242.73 363.18 243.73 363.55 244.71 363.92 245.68 364.3 246.64 364.68 247.58 365.06 248.51 365.49 249.54 365.93 250.56 366.37 251.56 366.81 252.54 367.26 253.51 367.71 254.46 368.17 255.39 368.63 256.31 369.1 257.22 369.57 258.11 370.09 259.09 370.62 260.05 371.16 260.99 371.7 261.91 372.24 262.82 372.79 263.71 373.35 264.59 373.91 265.45 374.47 266.3 375.04 267.13 375.67 268.02 376.31 268.9 376.95 269.77 377.6 270.61 378.26 271.44 378.91 272.25 379.58 273.05 380.25 273.83 380.93 274.6 381.61 275.35 382.3 276.08 383.05 276.87 383.82 277.64 384.58 278.39 385.36 279.12 386.14 279.84 386.93 280.54 387.73 281.23 388.53 281.9 389.33 282.56 390.15 283.2 390.97 283.83 391.79 284.44 392.62 285.04 393.46 285.62 394.31 286.19 395.16 286.75 396.01 287.29 396.88 287.83 397.74 288.34 398.62 288.85 399.5 289.34 400.38 289.83 401.28 290.3 402.17 290.75 403.08 291.2 403.99 291.64 404.9 292.06 405.82 292.47 406.75 292.88 407.68 293.27 408.61 293.65 409.56 294.02 410.5 294.38 411.46 294.74 412.42 295.08 413.38 295.41 414.35 295.74 415.32 296.05 416.3 296.36 417.29 296.65 418.28 296.94 419.27 297.22 420.27 297.49 421.28 297.75 422.29 298.01 423.31 298.26 424.33 298.5 425.35 298.73 426.38 298.95 427.41 299.17 428.45 299.38 429.5 299.58 430.55 299.78 431.6 299.97 432.66 300.15 433.72 300.33 434.79 300.5 435.86 300.66 436.93 300.82 438.01 300.97 439.01 301.1 440.01 301.23 441.01 301.35 442.01 301.47 443.02 301.59 444.03 301.7 445.05 301.8 446.06 301.91 447.09 302 448.11 302.09 449.14 302.18 450.17 302.27 451.21 302.35 452.25 302.42 453.29 302.5 454.33 302.57 455.38 302.63 456.43 302.69 457.48 302.75 458.54 302.81 459.6 302.86 460.66 302.91 461.73 302.95 462.79 302.99 463.87 303.03 464.94 303.07 466.02 303.1 467.09 303.13 468.18 303.15 469.26 303.18 470.35 303.2 471.44 303.21 472.53 303.23 473.62 303.24 474.72 303.25 475.82 303.26 476.82 303.26 477.83 303.27 478.83 303.27 479.84 303.26 480.85 303.26 481.86 303.25 482.87 303.25 483.89 303.24 484.9 303.23 485.92 303.21 486.94 303.2 487.96 303.18 488.99 303.16 490.01 303.14 491.04 303.12 492.07 303.09 493.09 303.07 494.13 303.04 495.16 303.01 496.19 302.98 497.23 302.95 498.26 302.92 499.3 302.88 500.34 302.84 501.38 302.81 502.42 302.77 503.47 302.72 504.51 302.68 505.56 302.64 506.6 302.59 507.65 302.54 508.7 302.49 509.75 302.44 510.8 302.39 511.85 302.34 512.9 302.28 513.96 302.23 515.01 302.17 516.07 302.11 517.12 302.05 518.18 301.99 519.24 301.92 520.3 301.86 521.36 301.79 522.42 301.72 523.48 301.65 524.54 301.58 525.6 301.51 526.67 301.43 527.73 301.36 528.79 301.28 529.86 301.2 530.92 301.12 531.99 301.04 533.05 300.95 534.12 300.87 535.19 300.78 536.25 300.69 537.32 300.6 538.39 300.51 539.46 300.41 540.53 300.32 541.59 300.22 542.66 300.12 543.73 300.02 544.8 299.92 545.87 299.81 546.94 299.71 548.01 299.6 549.07 299.49 550.14 299.38 551.21 299.27 552.28 299.15 553.35 299.03 554.42 298.91 555.49 298.79 556.55 298.67 557.62 298.54 558.69 298.41 559.76 298.28 560.82 298.15 561.89 298.02 562.95 297.88 564.02 297.74 565.09 297.6 566.15 297.46 567.21 297.31 568.28 297.16 569.34 297.01 570.4 296.86 571.46 296.71 572.53 296.55 573.59 296.39 574.65 296.22 575.7 296.06 576.76 295.89 577.82 295.72 578.88 295.54 579.93 295.37 580.99 295.19 582.04 295.01 583.09 294.82 584.15 294.63 585.2 294.44 586.25 294.25 587.3 294.05 588.34 293.85 589.39 293.65 590.44 293.44 591.48 293.23 592.52 293.02 593.57 292.81 594.61 292.59 595.65 292.36 596.68 292.14 597.72 291.91 598.76 291.68 599.79 291.44 600.82 291.2 601.85 290.96 602.88 290.71 603.91 290.46 604.94 290.2 605.96 289.95 606.98 289.68 608.01 289.42 609.03 289.15 610.04 288.87 611.06 288.6 612.08 288.32 613.09 288.03 614.1 287.74 615.11 287.45 616.12 287.15 617.12 286.85 618.13 286.54 619.13 286.23 620.13 285.92 621.13 285.6 622.12 285.27 623.12 284.94 624.11 284.61 625.1 284.27 626.08 283.93 627.07 283.59 628.05 283.23 629.03 282.88 630.01 282.52 630.99 282.15 631.96 281.78 632.94 281.41 633.91 281.03 634.87 280.64 635.84 280.25 636.8 279.86 637.76 279.46 638.72 279.05 639.67 278.64 640.62 278.23 641.57 277.81 642.52 277.38 643.47 276.95 644.41 276.51 645.35 276.07 646.28 275.62 647.22 275.17 648.15 274.71 649.08 274.24 650 273.77 650.93 273.3 651.85 272.82 652.76 272.33 653.68 271.84 654.59 271.34 655.5 270.83 656.4 270.32 657.31 269.8 658.21 269.28 659.1 268.75 660 268.22 660.89 267.67 661.77 267.13 662.66 266.57 663.54 266.01 664.42 265.45 665.29 264.87 666.16 264.29 667.03 263.71 667.89 263.11 668.76 262.51 669.61 261.91 670.47 261.29 671.32 260.67 672.17 260.05 673.01 259.41 673.85 258.77 674.69 258.12 675.53 257.47 676.36 256.8 677.18 256.13 678.01 255.46 678.83 254.77 679.64 254.08 680.46 253.38 681.27 252.67 682.07 251.96 682.87 251.24 683.67 250.51 684.47 249.77 685.26 249.02 686.04 248.27 686.83 247.51 687.61 246.73 688.38 245.96 689.15 245.17 689.92 244.37 690.68 243.57 691.37 242.84 692.05 242.1 692.73 241.35 693.4 240.6 694.07 239.84 694.74 239.08 695.4 238.3 696.07 237.52 696.72 236.73 697.38 235.93 698.03 235.13 698.68 234.32 699.32 233.5 699.96 232.67 700.6 231.83 701.24 230.99 701.87 230.13 702.5 229.27 703.12 228.4 703.74 227.53 704.36 226.64 704.97 225.75 705.58 224.84 706.19 223.93 706.79 223.01 707.39 222.08 707.99 221.14 708.58 220.19 709.17 219.23 709.69 218.37 710.21 217.51 710.72 216.63 711.23 215.75 711.74 214.86 712.25 213.96 712.75 213.05 713.25 212.14 713.75 211.22 714.25 210.29 714.74 209.35 715.23 208.4 715.71 207.44 716.2 206.48 716.68 205.5 717.15 204.52 717.63 203.53 718.1 202.53 718.57 201.52 719.03 200.5 719.49 199.47 719.95 198.43 720.41 197.39 720.8 196.46 721.2 195.53 721.59 194.59 721.98 193.64 722.37 192.68 722.75 191.72 723.13 190.75 723.51 189.77 723.89 188.78 724.27 187.78 724.64 186.78 725.01 185.76 725.38 184.74 725.74 183.71 726.11 182.67 726.47 181.62 726.83 180.56 727.18 179.49 727.54 178.42 727.89 177.33 728.24 176.23 728.58 175.13 728.88 174.17 729.17 173.21 729.46 172.24 729.75 171.26 730.04 170.27 730.33 169.28 730.61 168.28 730.89 167.27 731.17 166.25 731.45 165.22 731.73 164.19 732.01 163.15 732.28 162.09 732.55 161.03 732.82 159.97 733.09 158.89 733.35 157.8 733.62 156.71 733.88 155.6 734.14 154.49 734.4 153.37 734.66 152.23 734.91 151.09 735.17 149.94 735.42 148.78 735.67 147.61 735.87 146.62 736.08 145.63 736.28 144.63 736.48 143.62 736.69 142.61 736.89 141.59 737.08 140.56 737.28 139.52 737.48 138.48 737.67 137.42 737.87 136.36 738.06 135.29 738.25 134.21 738.44 133.13 738.63 132.03 738.81 130.93 739 129.82 739.18 128.69 739.37 127.56 739.55 126.42 739.73 125.27 739.91 124.12 740.09 122.95 740.26 121.77 740.44 120.58 740.61 119.38 740.78 118.18 740.96 116.96 741.12 115.73 741.29 114.49 741.43 113.49 741.56 112.48 741.69 111.47 741.82 110.45 741.95 109.42 742.08 108.39 742.21 107.34 742.34 106.29 742.47 105.23 742.59 104.17 742.72 103.09 742.84 102.01 742.97 100.92 743.09 99.82 743.21 98.72 743.33 97.6 743.45 96.48 743.57 95.35 743.69 94.2 743.81 93.05 743.92 91.89 744.04 90.73 744.16 89.55 744.27 88.36 744.38 87.16 744.5 85.96 744.61 84.74 744.72 83.51 744.83 82.27 744.94 81.03 745.04 79.77 745.15 78.5 745.26 77.22 745.36 75.93 745.47 74.62 745.57 73.31 745.67 71.98 745.75 70.98 745.83 69.97 745.9 68.96 745.98 67.93 746.05 66.9 746.13 65.87 746.2 64.82 746.27 63.77 746.35 62.71 746.42 61.65 746.49 60.57 746.56 59.49 746.63 58.4 746.7 57.3 746.77 56.2 746.84 55.08 746.91 53.96 746.98 52.83 747.05 51.69 747.11 50.54 747.18 49.38 747.25 48.22 747.31 47.04 747.38 45.86 747.44 44.67 747.51 43.46 747.57 42.25 747.63 41.03 747.7 39.79 747.76 38.55 747.82 37.3 747.88 36.04 747.94 34.76 748 33.48 748.06 32.18 748.12 30.88 748.18 29.56 748.24 28.23 748.3 26.89 748.35 25.53 748.41 24.17 748.47 22.79 748.52 21.4 748.56 20.47" stroke="#00f000"/>
<path d="M318.79 20.31 318.8 21.34 318.8 22.37 318.81 23.38 318.82 24.38 318.83 26.37 318.85 28.32 318.86 30.24 318.88 32.13 318.89 33.99 318.91 35.82 318.92 37.63 318.94 39.41 318.96 41.16 318.97 42.89 318.99 44.59 319.01 46.27 319.02 47.93 319.04 49.56 319.06 51.18 319.08 52.77 319.1 54.34 319.12 55.88 319.13 57.41 319.15 58.92 319.17 60.42 319.19 61.89 319.21 63.34 319.23 64.78 319.25 66.2 319.27 67.6 319.29 68.99 319.31 70.36 319.33 71.72 319.36 73.06 319.38 74.38 319.4 75.69 319.42 76.99 319.44 78.27 319.47 79.54 319.49 80.79 319.51 82.04 319.54 83.26 319.56 84.48 319.58 85.68 319.61 86.88 319.63 88.06 319.66 89.22 319.68 90.38 319.7 91.52 319.73 92.66 319.76 93.78 319.78 94.89 319.81 95.99 319.83 97.09 319.86 98.17 319.89 99.24 319.91 100.3 319.94 101.35 319.97 102.39 319.99 103.43 320.02 104.45 320.05 105.47 320.08 106.47 320.12 107.97 320.16 109.44 320.21 110.9 320.25 112.33 320.3 113.75 320.34 115.16 320.39 116.54 320.43 117.91 320.48 119.26 320.53 120.6 320.58 121.92 320.63 123.23 320.67 124.52 320.72 125.79 320.77 127.06 320.83 128.3 320.88 129.54 320.93 130.76 320.98 131.97 321.03 133.16 321.09 134.35 321.14 135.52 321.19 136.67 321.25 137.82 321.3 138.95 321.36 140.08 321.42 141.19 321.47 142.29 321.53 143.38 321.59 144.46 321.65 145.53 321.71 146.58 321.77 147.63 321.83 148.67 321.89 149.7 321.95 150.72 322.01 151.72 322.07 152.72 322.16 154.04 322.24 155.35 322.33 156.63 322.41 157.9 322.5 159.16 322.59 160.4 322.68 161.63 322.77 162.84 322.86 164.04 322.95 165.23 323.04 166.4 323.14 167.56 323.23 168.71 323.33 169.84 323.43 170.97 323.52 172.08 323.62 173.18 323.72 174.26 323.82 175.34 323.92 176.4 324.02 177.45 324.13 178.5 324.23 179.53 324.34 180.55 324.44 181.56 324.55 182.56 324.68 183.8 324.82 185.02 324.96 186.22 325.1 187.42 325.24 188.59 325.38 189.76 325.52 190.9 325.67 192.04 325.82 193.16 325.96 194.27 326.11 195.37 326.26 196.45 326.41 197.52 326.57 198.58 326.72 199.63 326.88 200.67 327.04 201.69 327.2 202.7 327.36 203.7 327.52 204.69 327.71 205.87 327.91 207.03 328.11 208.17 328.32 209.3 328.52 210.42 328.73 211.52 328.93 212.6 329.14 213.68 329.36 214.74 329.57 215.79 329.79 216.82 330.01 217.84 330.23 218.85 330.45 219.85 330.67 220.83 330.94 221.97 331.21 223.09 331.48 224.19 331.75 225.28 332.02 226.35 332.3 227.41 332.58 228.45 332.87 229.48 333.15 230.5 333.44 231.5 333.73 232.49 334.03 233.47 334.32 234.43 334.67 235.52 335.01 236.59 335.36 237.64 335.72 238.68 336.07 239.7 336.43 240.71 336.8 241.7 337.16 242.68 337.53 243.64 337.91 244.59 338.29 245.53 338.71 246.57 339.15 247.59 339.58 248.59 340.03 249.58 340.47 250.55 340.92 251.51 341.38 252.45 341.84 253.38 342.3 254.29 342.77 255.19 343.24 256.07 343.77 257.03 344.3 257.98 344.84 258.91 345.39 259.83 345.94 260.73 346.49 261.61 347.05 262.48 347.62 263.34 348.19 264.17 348.76 265 349.4 265.89 350.04 266.76 350.7 267.62 351.35 268.46 352.02 269.28 352.69 270.09 353.36 270.88 354.04 271.66 354.73 272.43 355.42 273.17 356.12 273.91 356.83 274.63 357.54 275.34 358.32 276.09 359.11 276.83 359.9 277.56 360.71 278.27 361.52 278.96 362.33 279.64 363.16 280.31 363.99 280.96 364.82 281.6 365.67 282.22 366.52 282.83 367.37 283.43 368.24 284.01 369.11 284.59 369.98 285.15 370.87 285.69 371.76 286.23 372.65 286.76 373.55 287.27 374.46 287.77 375.38 288.26 376.3 288.74 377.23 289.21 378.16 289.67 379.1 290.12 380.04 290.56 381 290.99 381.95 291.41 382.92 291.82 383.89 292.22 384.86 292.61 385.84 292.99 386.83 293.37 387.83 293.73 388.82 294.09 389.83 294.43 390.84 294.77 391.86 295.11 392.88 295.43 393.9 295.75 394.94 296.05 395.98 296.35 397.02 296.65 398.07 296.93 399.12 297.21 400.09 297.46 401.07 297.71 402.05 297.95 403.03 298.18 404.02 298.41 405.02 298.63 406.01 298.84 407.02 299.05 408.02 299.26 409.03 299.46 410.05 299.66 411.07 299.85 412.09 300.04 413.11 300.22 414.14 300.4 415.18 300.57 416.22 300.74 417.26 300.9 418.31 301.06 419.36 301.21 420.41 301.37 421.47 301.51 422.53 301.65 423.59 301.79 424.66 301.93 425.74 302.06 426.81 302.19 427.89 302.31 428.97 302.43 430.06 302.55 431.15 302.66 432.24 302.77 433.24 302.86 434.24 302.96 435.24 303.05 436.25 303.13 437.26 303.22 438.27 303.3 439.28 303.38 440.3 303.46 441.31 303.53 442.34 303.6 443.36 303.67 444.38 303.74 445.41 303.81 446.44 303.87 447.48 303.93 448.51 303.99 449.55 304.04 450.59 304.09 451.63 304.14 452.68 304.19 453.72 304.24 454.77 304.28 455.82 304.33 456.88 304.36 457.93 304.4 458.99 304.44 460.05 304.47 461.11 304.5 462.18 304.53 463.24 304.56 464.31 304.58 465.38 304.61 466.45 304.63 467.52 304.65 468.6 304.67 469.68 304.68 470.75 304.7 471.84 304.71 472.92 304.72 474 304.72 475.09 304.73 476.17 304.74 477.26 304.74 478.35 304.74 479.44 304.74 480.54 304.73 481.63 304.73 482.73 304.72 483.83 304.71 484.92 304.7 486.02 304.69 487.13 304.68 488.23 304.66 489.33 304.64 490.44 304.62 491.55 304.6 492.65 304.58 493.76 304.56 494.87 304.53 495.87 304.5 496.87 304.48 497.87 304.45 498.88 304.42 499.88 304.39 500.88 304.36 501.89 304.32 502.89 304.29 503.9 304.25 504.91 304.21 505.91 304.17 506.92 304.13 507.93 304.08 508.94 304.04 509.95 303.99 510.96 303.95 511.97 303.9 512.98 303.85 513.99 303.79 515 303.74 516.02 303.68 517.03 303.63 518.04 303.57 519.06 303.51 520.07 303.44 521.08 303.38 522.1 303.32 523.11 303.25 524.13 303.18 525.14 303.11 526.16 303.04 527.18 302.96 528.19 302.89 529.21 302.81 530.22 302.73 531.24 302.65 532.26 302.57 533.27 302.49 534.29 302.4 535.31 302.31 536.32 302.22 537.34 302.13 538.35 302.04 539.37 301.94 540.39 301.84 541.4 301.74 542.42 301.64 543.43 301.54 544.45 301.43 545.46 301.33 546.48 301.22 547.49 301.11 548.51 300.99 549.52 300.88 550.53 300.76 551.55 300.64 552.56 300.52 553.57 300.39 554.58 300.27 555.6 300.14 556.61 300.01 557.62 299.88 558.63 299.74 559.64 299.6 560.64 299.46 561.65 299.32 562.66 299.18 563.67 299.03 564.67 298.88 565.68 298.73 566.68 298.57 567.69 298.42 568.69 298.26 569.69 298.1 570.7 297.93 571.7 297.76 572.7 297.59 573.7 297.42 574.7 297.25 575.69 297.07 576.69 296.89 577.69 296.71 578.68 296.52 579.67 296.33 580.67 296.14 581.66 295.95 582.65 295.75 583.64 295.55 584.63 295.35 585.61 295.14 586.6 294.93 587.59 294.72 588.57 294.5 589.55 294.28 590.53 294.06 591.51 293.84 592.49 293.61 593.47 293.38 594.45 293.15 595.42 292.91 596.39 292.67 597.37 292.43 598.34 292.18 599.31 291.93 600.27 291.67 601.24 291.42 602.31 291.13 603.38 290.83 604.45 290.53 605.52 290.23 606.58 289.92 607.64 289.61 608.7 289.3 609.76 288.98 610.82 288.65 611.87 288.32 612.93 287.99 613.97 287.65 615.02 287.3 616.07 286.96 617.11 286.6 618.15 286.24 619.19 285.88 620.23 285.51 621.26 285.14 622.29 284.76 623.32 284.38 624.35 283.99 625.37 283.6 626.39 283.2 627.41 282.79 628.43 282.38 629.44 281.97 630.45 281.55 631.46 281.12 632.47 280.69 633.47 280.26 634.47 279.82 635.47 279.37 636.47 278.92 637.46 278.46 638.45 277.99 639.43 277.52 640.42 277.05 641.4 276.57 642.38 276.08 643.35 275.58 644.32 275.09 645.29 274.58 646.26 274.07 647.22 273.55 648.18 273.03 649.13 272.5 650.09 271.96 651.04 271.42 651.98 270.87 652.93 270.32 653.87 269.75 654.81 269.19 655.74 268.61 656.67 268.03 657.6 267.44 658.52 266.85 659.44 266.25 660.36 265.64 661.27 265.03 662.18 264.41 663.09 263.78 663.99 263.14 664.89 262.5 665.78 261.85 666.68 261.19 667.56 260.53 668.45 259.86 669.24 259.25 670.03 258.64 670.82 258.01 671.6 257.39 672.38 256.75 673.16 256.11 673.94 255.47 674.71 254.82 675.48 254.16 676.24 253.49 677.01 252.82 677.76 252.15 678.52 251.46 679.27 250.78 680.02 250.08 680.77 249.38 681.51 248.67 682.25 247.95 682.99 247.23 683.72 246.5 684.45 245.77 685.18 245.03 685.9 244.28 686.62 243.52 687.34 242.76 688.05 241.99 688.76 241.21 689.46 240.43 690.17 239.64 690.87 238.84 691.56 238.03 692.25 237.22 692.94 236.4 693.63 235.57 694.31 234.74 694.99 233.9 695.66 233.05 696.33 232.19 697 231.33 697.66 230.45 698.32 229.57 698.98 228.68 699.63 227.79 700.28 226.88 700.93 225.97 701.57 225.05 702.13 224.22 702.7 223.39 703.26 222.55 703.82 221.71 704.37 220.86 704.93 220 705.47 219.13 706.02 218.26 706.56 217.38 707.1 216.49 707.64 215.6 708.18 214.7 708.71 213.79 709.23 212.87 709.76 211.95 710.28 211.02 710.8 210.08 711.32 209.13 711.83 208.18 712.34 207.22 712.84 206.25 713.35 205.27 713.85 204.29 714.34 203.29 714.84 202.29 715.33 201.28 715.82 200.26 716.3 199.24 716.78 198.2 717.2 197.29 717.61 196.37 718.03 195.44 718.44 194.51 718.85 193.57 719.25 192.62 719.66 191.67 720.06 190.7 720.45 189.74 720.85 188.76 721.24 187.77 721.63 186.78 722.02 185.78 722.41 184.78 722.79 183.76 723.17 182.74 723.55 181.71 723.93 180.67 724.3 179.63 724.67 178.57 725.04 177.51 725.4 176.43 725.77 175.35 726.13 174.26 726.48 173.17 726.84 172.06 727.14 171.1 727.44 170.14 727.74 169.17 728.04 168.19 728.33 167.21 728.62 166.22 728.91 165.22 729.2 164.21 729.49 163.2 729.78 162.18 730.06 161.15 730.34 160.12 730.62 159.07 730.9 158.02 731.17 156.96 731.44 155.9 731.72 154.82 731.99 153.74 732.25 152.64 732.52 151.54 732.78 150.43 733.04 149.31 733.3 148.19 733.56 147.05 733.82 145.9 734.07 144.75 734.32 143.58 734.53 142.6 734.74 141.62 734.94 140.63 735.15 139.63 735.35 138.62 735.55 137.61 735.75 136.59 735.95 135.56 736.15 134.52 736.34 133.48 736.54 132.43 736.73 131.37 736.92 130.3 737.11 129.23 737.3 128.15 737.49 127.05 737.68 125.95 737.86 124.85 738.04 123.73 738.23 122.6 738.41 121.47 738.58 120.32 738.76 119.17 738.94 118.01 739.11 116.84 739.29 115.65 739.46 114.46 739.63 113.26 739.8 112.05 739.97 110.83 740.13 109.59 740.27 108.6 740.4 107.6 740.53 106.59 740.66 105.57 740.79 104.55 740.91 103.52 741.04 102.48 741.17 101.44 741.29 100.39 741.41 99.33 741.54 98.26 741.66 97.18 741.78 96.1 741.9 95 742.02 93.9 742.14 92.79 742.26 91.67 742.37 90.55 742.49 89.41 742.6 88.26 742.72 87.11 742.83 85.94 742.94 84.77 743.05 83.59 743.16 82.39 743.27 81.19 743.38 79.98 743.49 78.75 743.6 77.52 743.7 76.27 743.81 75.01 743.91 73.75 744.01 72.47 744.12 71.17 744.22 69.87 744.32 68.56 744.42 67.23 744.49 66.23 744.56 65.22 744.64 64.2 744.71 63.17 744.78 62.14 744.85 61.1 744.92 60.05 744.99 59 745.06 57.93 745.13 56.86 745.2 55.78 745.27 54.69 745.34 53.6 745.4 52.49 745.47 51.38 745.54 50.25 745.6 49.12 745.67 47.98 745.73 46.83 745.79 45.67 745.86 44.5 745.92 43.32 745.98 42.14 746.04 40.94 746.11 39.73 746.17 38.51 746.23 37.28 746.29 36.04 746.35 34.79 746.4 33.52 746.46 32.25 746.52 30.96 746.58 29.67 746.63 28.36 746.69 27.03 746.75 25.7 746.8 24.35 746.86 22.99 746.91 21.62 746.96 20.23 746.96 20.23" stroke="#0058a0"/>
<path d="M285.52 20.27 285.53 21.28 285.55 23.26 285.56 25.22 285.58 27.14 285.6 29.04 285.62 30.91 285.63 32.75 285.65 34.56 285.67 36.35 285.69 38.12 285.71 39.86 285.73 41.58 285.75 43.27 285.77 44.94 285.79 46.59 285.81 48.22 285.83 49.83 285.85 51.42 285.87 52.99 285.89 54.53 285.91 56.06 285.93 57.58 285.96 59.07 285.98 60.55 286 62 286.02 63.45 286.05 64.87 286.07 66.28 286.09 67.68 286.12 69.06 286.14 70.42 286.17 71.77 286.19 73.1 286.21 74.42 286.24 75.73 286.27 77.02 286.29 78.3 286.32 79.57 286.34 80.82 286.37 82.06 286.4 83.29 286.42 84.51 286.45 85.71 286.48 86.91 286.5 88.09 286.53 89.26 286.56 90.42 286.59 91.57 286.62 92.71 286.65 93.83 286.68 94.95 286.71 96.06 286.74 97.16 286.77 98.24 286.8 99.32 286.83 100.39 286.86 101.45 286.89 102.5 286.92 103.54 286.95 104.57 286.98 105.6 287.01 106.61 287.05 107.62 287.09 109.11 287.14 110.59 287.19 112.05 287.24 113.49 287.3 114.91 287.35 116.32 287.4 117.71 287.45 119.09 287.51 120.45 287.56 121.79 287.61 123.12 287.67 124.43 287.72 125.73 287.78 127.02 287.84 128.29 287.9 129.55 287.95 130.79 288.01 132.03 288.07 133.25 288.13 134.45 288.19 135.65 288.25 136.83 288.31 138 288.37 139.16 288.44 140.3 288.5 141.44 288.56 142.56 288.63 143.68 288.69 144.78 288.76 145.87 288.82 146.95 288.89 148.03 288.96 149.09 289.03 150.14 289.09 151.18 289.16 152.22 289.23 153.24 289.3 154.25 289.37 155.26 289.47 156.58 289.56 157.9 289.66 159.19 289.76 160.47 289.86 161.74 289.96 162.99 290.06 164.23 290.16 165.45 290.26 166.66 290.36 167.86 290.47 169.04 290.58 170.21 290.68 171.37 290.79 172.51 290.9 173.65 291.01 174.77 291.12 175.88 291.23 176.98 291.34 178.06 291.46 179.14 291.57 180.2 291.69 181.26 291.81 182.3 291.92 183.33 292.04 184.36 292.16 185.37 292.28 186.37 292.4 187.36 292.56 188.59 292.71 189.8 292.87 191 293.03 192.19 293.19 193.36 293.35 194.51 293.51 195.65 293.68 196.78 293.84 197.9 294.01 199 294.18 200.09 294.35 201.17 294.52 202.24 294.7 203.29 294.87 204.34 295.05 205.37 295.23 206.39 295.41 207.4 295.59 208.4 295.77 209.38 295.99 210.55 296.22 211.71 296.44 212.85 296.67 213.98 296.9 215.09 297.13 216.19 297.37 217.27 297.6 218.34 297.84 219.4 298.08 220.44 298.33 221.47 298.57 222.49 298.82 223.5 299.07 224.5 299.32 225.48 299.58 226.45 299.88 227.57 300.18 228.67 300.48 229.76 300.79 230.83 301.1 231.89 301.42 232.93 301.73 233.96 302.05 234.97 302.38 235.97 302.7 236.96 303.03 237.94 303.36 238.9 303.7 239.85 304.08 240.91 304.47 241.97 304.87 243 305.26 244.02 305.66 245.03 306.07 246.02 306.48 247 306.89 247.96 307.3 248.91 307.72 249.84 308.15 250.76 308.57 251.66 309.06 252.67 309.55 253.65 310.04 254.63 310.54 255.58 311.04 256.52 311.55 257.44 312.06 258.35 312.58 259.24 313.1 260.12 313.63 260.99 314.16 261.84 314.75 262.76 315.35 263.68 315.96 264.57 316.57 265.45 317.19 266.31 317.81 267.16 318.44 267.99 319.07 268.81 319.71 269.61 320.35 270.4 321 271.17 321.66 271.93 322.39 272.75 323.12 273.55 323.86 274.34 324.61 275.11 325.36 275.87 326.12 276.61 326.89 277.33 327.66 278.05 328.44 278.74 329.22 279.42 330.01 280.09 330.81 280.75 331.62 281.39 332.43 282.02 333.24 282.64 334.06 283.24 334.89 283.83 335.73 284.41 336.57 284.98 337.41 285.53 338.27 286.08 339.13 286.61 339.99 287.13 340.86 287.64 341.74 288.14 342.62 288.63 343.51 289.11 344.4 289.58 345.3 290.04 346.21 290.49 347.12 290.93 348.04 291.36 348.96 291.78 349.89 292.2 350.82 292.6 351.76 293 352.71 293.38 353.66 293.76 354.61 294.13 355.57 294.49 356.54 294.85 357.51 295.2 358.49 295.53 359.47 295.87 360.46 296.19 361.45 296.51 362.45 296.82 363.46 297.12 364.47 297.42 365.48 297.71 366.5 297.99 367.52 298.27 368.55 298.54 369.59 298.8 370.63 299.06 371.67 299.32 372.72 299.56 373.77 299.8 374.83 300.04 375.9 300.27 376.96 300.5 378.04 300.72 379.11 300.93 380.1 301.13 381.09 301.31 382.08 301.5 383.07 301.68 384.07 301.85 385.07 302.03 386.08 302.19 387.09 302.36 388.1 302.52 389.12 302.68 390.14 302.84 391.16 302.99 392.19 303.14 393.22 303.28 394.26 303.43 395.29 303.57 396.33 303.7 397.38 303.84 398.43 303.97 399.48 304.1 400.53 304.22 401.59 304.35 402.65 304.47 403.72 304.58 404.78 304.7 405.85 304.81 406.93 304.92 408 305.03 409.08 305.14 410.16 305.24 411.25 305.34 412.34 305.44 413.43 305.54 414.52 305.64 415.62 305.73 416.72 305.82 417.82 305.91 418.93 306 419.93 306.08 420.93 306.15 421.93 306.23 422.93 306.3 423.94 306.37 424.95 306.44 425.96 306.51 426.97 306.58 427.98 306.64 429 306.71 430.02 306.77 431.04 306.83 432.06 306.89 433.08 306.95 434.11 307.01 435.14 307.07 436.17 307.13 437.2 307.18 438.23 307.23 439.27 307.29 440.3 307.34 441.34 307.39 442.38 307.44 443.43 307.48 444.47 307.53 445.51 307.58 446.56 307.62 447.61 307.66 448.66 307.71 449.71 307.75 450.77 307.79 451.82 307.83 452.88 307.86 453.93 307.9 454.99 307.94 456.05 307.97 457.12 308 458.18 308.04 459.24 308.07 460.31 308.1 461.38 308.13 462.45 308.15 463.52 308.18 464.59 308.2 465.66 308.23 466.73 308.25 467.81 308.27 468.88 308.29 469.96 308.31 471.04 308.33 472.12 308.35 473.2 308.36 474.28 308.38 475.36 308.39 476.44 308.4 477.53 308.41 478.61 308.42 479.7 308.42 480.79 308.43 481.87 308.43 482.96 308.44 484.05 308.44 485.14 308.44 486.23 308.44 487.32 308.43 488.41 308.43 489.51 308.42 490.6 308.42 491.69 308.41 492.79 308.39 493.88 308.38 494.98 308.37 496.08 308.35 497.17 308.33 498.27 308.31 499.37 308.29 500.47 308.27 501.56 308.24 502.66 308.21 503.76 308.18 504.86 308.15 505.96 308.12 507.06 308.08 508.16 308.04 509.26 308 510.36 307.96 511.47 307.91 512.57 307.87 513.67 307.82 514.77 307.77 515.87 307.71 516.97 307.66 518.08 307.6 519.18 307.53 520.28 307.47 521.38 307.4 522.48 307.33 523.58 307.26 524.68 307.19 525.79 307.11 526.89 307.03 527.99 306.95 529.09 306.86 530.19 306.77 531.29 306.68 532.39 306.58 533.49 306.48 534.59 306.38 535.69 306.28 536.79 306.17 537.88 306.06 538.98 305.94 540.08 305.82 541.18 305.7 542.27 305.58 543.37 305.45 544.46 305.32 545.56 305.18 546.65 305.04 547.75 304.9 548.84 304.75 549.93 304.6 551.02 304.45 552.11 304.29 553.2 304.13 554.29 303.96 555.38 303.79 556.47 303.62 557.56 303.44 558.64 303.25 559.73 303.07 560.81 302.88 561.89 302.68 562.98 302.48 564.06 302.27 565.14 302.07 566.22 301.85 567.3 301.63 568.37 301.41 569.45 301.18 570.52 300.95 571.6 300.71 572.67 300.47 573.74 300.23 574.81 299.98 575.88 299.72 576.95 299.46 578.02 299.19 579.08 298.92 580.14 298.64 581.21 298.36 582.27 298.07 583.33 297.78 584.38 297.48 585.44 297.18 586.5 296.87 587.55 296.56 588.6 296.24 589.65 295.92 590.7 295.58 591.75 295.25 592.8 294.91 593.84 294.56 594.88 294.21 595.92 293.85 596.96 293.48 598 293.11 599.03 292.74 600.07 292.36 601.1 291.97 602.13 291.58 603.16 291.18 604.19 290.77 605.21 290.36 606.23 289.94 607.25 289.52 608.27 289.09 609.29 288.65 610.3 288.21 611.32 287.76 612.33 287.3 613.34 286.84 614.34 286.37 615.35 285.9 616.35 285.42 617.35 284.93 618.35 284.44 619.34 283.94 620.33 283.44 621.33 282.92 622.31 282.4 623.3 281.88 624.29 281.35 625.27 280.81 626.25 280.26 627.22 279.71 628.2 279.15 629.17 278.59 630.03 278.08 630.89 277.57 631.75 277.05 632.61 276.53 633.46 276 634.31 275.47 635.16 274.93 636.01 274.38 636.86 273.83 637.7 273.28 638.54 272.72 639.38 272.15 640.22 271.58 641.06 271.01 641.89 270.42 642.72 269.84 643.55 269.25 644.38 268.65 645.2 268.05 646.03 267.44 646.85 266.83 647.66 266.21 648.48 265.58 649.29 264.96 650.1 264.32 650.91 263.68 651.72 263.04 652.52 262.39 653.33 261.73 654.13 261.07 654.92 260.41 655.72 259.73 656.51 259.06 657.3 258.38 658.09 257.69 658.87 257 659.66 256.3 660.44 255.6 661.21 254.89 661.99 254.18 662.76 253.46 663.53 252.74 664.3 252.01 665.06 251.28 665.83 250.54 666.59 249.8 667.34 249.05 668.1 248.3 668.85 247.54 669.6 246.77 670.35 246.01 671.09 245.23 671.83 244.45 672.57 243.67 673.31 242.88 674.04 242.09 674.77 241.29 675.5 240.49 676.22 239.68 676.95 238.87 677.66 238.05 678.38 237.23 679.1 236.4 679.81 235.56 680.52 234.73 681.22 233.89 681.92 233.04 682.62 232.19 683.32 231.33 684.01 230.47 684.7 229.6 685.39 228.73 686.08 227.85 686.76 226.97 687.44 226.09 688.12 225.2 688.79 224.3 689.46 223.4 690.13 222.5 690.79 221.59 691.45 220.67 692.11 219.75 692.77 218.83 693.42 217.9 694.07 216.97 694.72 216.03 695.36 215.08 695.92 214.25 696.48 213.42 697.03 212.58 697.58 211.74 698.14 210.9 698.68 210.05 699.23 209.19 699.77 208.34 700.31 207.48 700.85 206.61 701.39 205.74 701.92 204.87 702.45 203.99 702.98 203.11 703.51 202.22 704.03 201.33 704.55 200.44 705.07 199.54 705.59 198.64 706.1 197.73 706.61 196.82 707.12 195.9 707.63 194.98 708.13 194.05 708.63 193.12 709.13 192.18 709.63 191.24 710.12 190.3 710.61 189.34 711.1 188.39 711.58 187.42 712.07 186.46 712.55 185.48 713.02 184.5 713.5 183.52 713.97 182.52 714.44 181.53 714.91 180.52 715.37 179.51 715.84 178.49 716.3 177.47 716.75 176.44 717.21 175.4 717.66 174.35 718.11 173.3 718.55 172.24 719 171.17 719.44 170.1 719.81 169.17 720.19 168.23 720.56 167.29 720.93 166.34 721.3 165.39 721.66 164.43 722.02 163.46 722.39 162.48 722.75 161.5 723.1 160.51 723.46 159.51 723.81 158.51 724.16 157.5 724.51 156.47 724.86 155.45 725.21 154.41 725.55 153.36 725.89 152.31 726.23 151.24 726.57 150.17 726.9 149.09 727.24 148 727.57 146.89 727.9 145.78 728.22 144.66 728.55 143.53 728.87 142.38 729.19 141.23 729.46 140.26 729.72 139.28 729.98 138.29 730.25 137.3 730.51 136.3 730.76 135.29 731.02 134.27 731.28 133.24 731.53 132.2 731.78 131.15 732.03 130.09 732.28 129.03 732.53 127.95 732.78 126.87 733.02 125.77 733.27 124.66 733.51 123.55 733.75 122.42 733.99 121.28 734.23 120.13 734.47 118.97 734.7 117.8 734.93 116.62 735.17 115.42 735.4 114.22 735.63 113 735.81 112.01 735.99 111.02 736.17 110.02 736.35 109.01 736.53 107.99 736.7 106.97 736.88 105.93 737.06 104.89 737.23 103.84 737.4 102.77 737.58 101.7 737.75 100.62 737.92 99.53 738.09 98.43 738.26 97.32 738.43 96.21 738.59 95.08 738.76 93.94 738.92 92.79 739.09 91.63 739.25 90.46 739.41 89.28 739.57 88.08 739.73 86.88 739.89 85.67 740.05 84.44 740.21 83.2 740.36 81.95 740.52 80.69 740.67 79.42 740.83 78.13 740.98 76.83 741.13 75.52 741.28 74.2 741.39 73.2 741.5 72.19 741.62 71.17 741.73 70.15 741.84 69.12 741.95 68.08 742.05 67.03 742.16 65.98 742.27 64.92 742.38 63.84 742.48 62.77 742.59 61.68 742.7 60.58 742.8 59.48 742.91 58.37 743.01 57.25 743.11 56.12 743.22 54.98 743.32 53.83 743.42 52.67 743.52 51.51 743.62 50.33 743.72 49.15 743.82 47.95 743.92 46.75 744.02 45.54 744.11 44.31 744.21 43.08 744.31 41.84 744.4 40.58 744.5 39.32 744.6 38.05 744.69 36.76 744.78 35.47 744.88 34.16 744.97 32.85 745.06 31.52 745.15 30.18 745.24 28.83 745.34 27.47 745.42 26.09 745.51 24.71 745.6 23.31 745.69 21.9 745.78 20.48 745.81 20.01" stroke="#0000b0"/>
</g>
<g opacity="0.999">
<path d="M126.9 112.42H185.9" stroke="#000000" stroke-width="2.0" fill="none"/>
<text x="185.7" y="112.52" font-size="26">k<tspan font-size="16.1" dy="6">x</tspan><tspan dy="-6">H=1</tspan></text>
<path d="M126.9 142.94H185.9" stroke="#9c0000" stroke-width="2.0" fill="none"/>
<text x="185.7" y="143.04" font-size="26">k<tspan font-size="16.1" dy="6">x</tspan><tspan dy="-6">H=5</tspan></text>
<path d="M126.9 173.46H185.9" stroke="#bc5000" stroke-width="2.0" fill="none"/>
<text x="185.7" y="173.56" font-size="26">k<tspan font-size="16.1" dy="6">x</tspan><tspan dy="-6">H=10</tspan></text>
<path d="M126.9 203.98H185.9" stroke="#00f000" stroke-width="2.0" fill="none"/>
<text x="185.7" y="204.08" font-size="26">k<tspan font-size="16.1" dy="6">x</tspan><tspan dy="-6">H=20</tspan></text>
<path d="M126.9 234.5H185.9" stroke="#0058a0" stroke-width="2.0" fill="none"/>
<text x="185.7" y="234.6" font-size="26">k<tspan font-size="16.1" dy="6">x</tspan><tspan dy="-6">H=30</tspan></text>
<path d="M126.9 265.02H185.9" stroke="#0000b0" stroke-width="2.0" fill="none"/>
<text x="185.7" y="265.12" font-size="26">k<tspan font-size="16.1" dy="6">x</tspan><tspan dy="-6">H=50</tspan></text>
<text x="102" y="58.3" font-size="26" text-anchor="end">1000</text>
<text x="102" y="226.0" font-size="26" text-anchor="end">100</text>
<text x="102" y="391.5" font-size="26" text-anchor="end">10</text>
<text x="108.5" y="423.5" font-size="26" text-anchor="middle">1</text>
<text x="410.15" y="423.5" font-size="26" text-anchor="middle">10</text>
<text x="711.8" y="423.5" font-size="26" text-anchor="middle">100</text>
<text x="455.4" y="451.8" font-size="26" text-anchor="middle">r/AU</text>
<text transform="translate(24 217.2) rotate(-90)" font-size="26" text-anchor="middle">t<tspan font-size="16.1" dy="6.5">grow</tspan><tspan dy="-6.5">/P</tspan><tspan font-size="16.1" dy="6.5">orb</tspan></text>
</g>
</svg>
</body></html>
